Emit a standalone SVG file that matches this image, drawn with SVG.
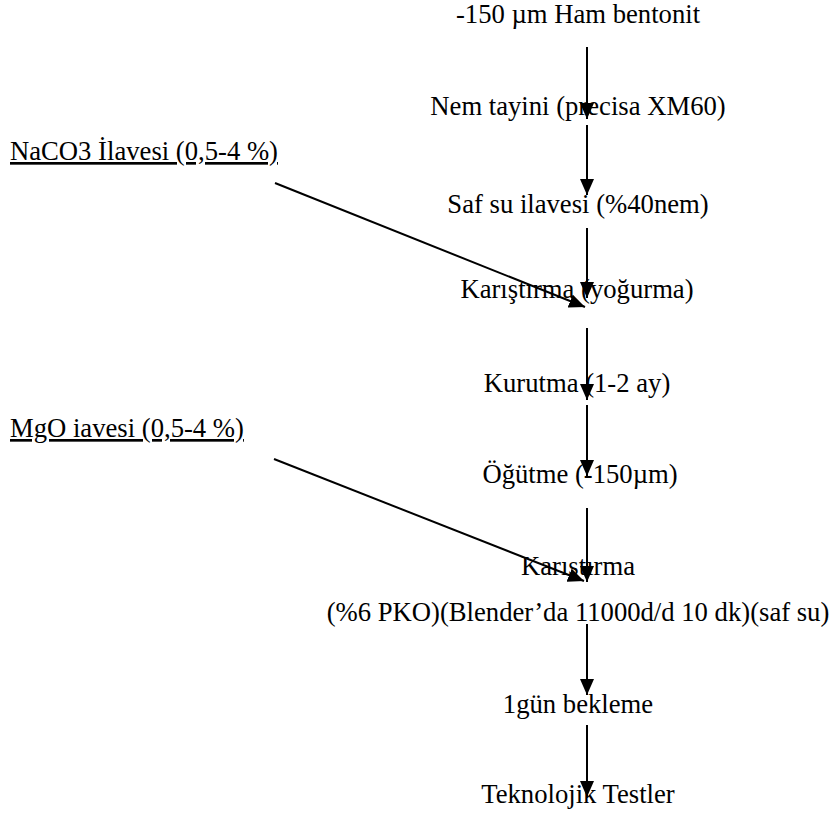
<svg xmlns="http://www.w3.org/2000/svg" width="831" height="819" viewBox="0 0 831 819">
<defs>
<style>
text{font-family:"Liberation Serif","Times New Roman",serif;font-size:26.67px;fill:#000}
.c{text-anchor:middle}
.u{text-decoration:underline}
.ln{stroke:#000;stroke-width:2;fill:none}
</style>
<marker id="ah" markerUnits="userSpaceOnUse" markerWidth="16" markerHeight="14" refX="16" refY="7" orient="auto" viewBox="0 0 16 14">
<path d="M0,0 L16,7 L0,14 z" fill="#000"/>
</marker>
</defs>
<rect width="831" height="819" fill="#fff"/>
<g id="n1"><text class="c" x="578" y="23">-150 µm Ham bentonit</text></g>
<g id="n2"><text class="c" x="578" y="115">Nem tayini (precisa XM60)</text></g>
<g id="n3"><text class="c" x="578" y="213">Saf su ilavesi (%40nem)</text></g>
<g id="n4"><text class="c" x="577" y="298">Karıştırma (yoğurma)</text></g>
<g id="n5"><text class="c" x="577" y="392">Kurutma (1-2 ay)</text></g>
<g id="n6"><text class="c" x="580" y="483">Öğütme (-150µm)</text></g>
<g id="n7"><text class="c" x="578" y="575">Karıştırma</text><text class="c" x="578" y="621">(%6 PKO)(Blender’da 11000d/d 10 dk)(saf su)</text></g>
<g id="n8"><text class="c" x="578" y="713">1gün bekleme</text></g>
<g id="n9"><text class="c" x="578" y="803">Teknolojik Testler</text></g>
<g id="a1"><text class="u" x="10" y="160">NaCO3 İlavesi (0,5-4 %)</text></g>
<g id="a2"><text class="u" x="10" y="437">MgO iavesi (0,5-4 %)</text></g>
<g id="connectors" class="ln" marker-end="url(#ah)">
<line x1="587" y1="47" x2="587" y2="119"/>
<line x1="587" y1="125" x2="587" y2="195"/>
<line x1="587" y1="228" x2="587" y2="298"/>
<line x1="587" y1="328" x2="587" y2="400"/>
<line x1="587" y1="405" x2="587" y2="476"/>
<line x1="587" y1="508" x2="587" y2="582"/>
<line x1="587" y1="624" x2="587" y2="695"/>
<line x1="587" y1="725" x2="587" y2="797"/>
<line x1="275" y1="183" x2="585" y2="307"/>
<line x1="274" y1="459" x2="584" y2="581"/>
</g>
</svg>
